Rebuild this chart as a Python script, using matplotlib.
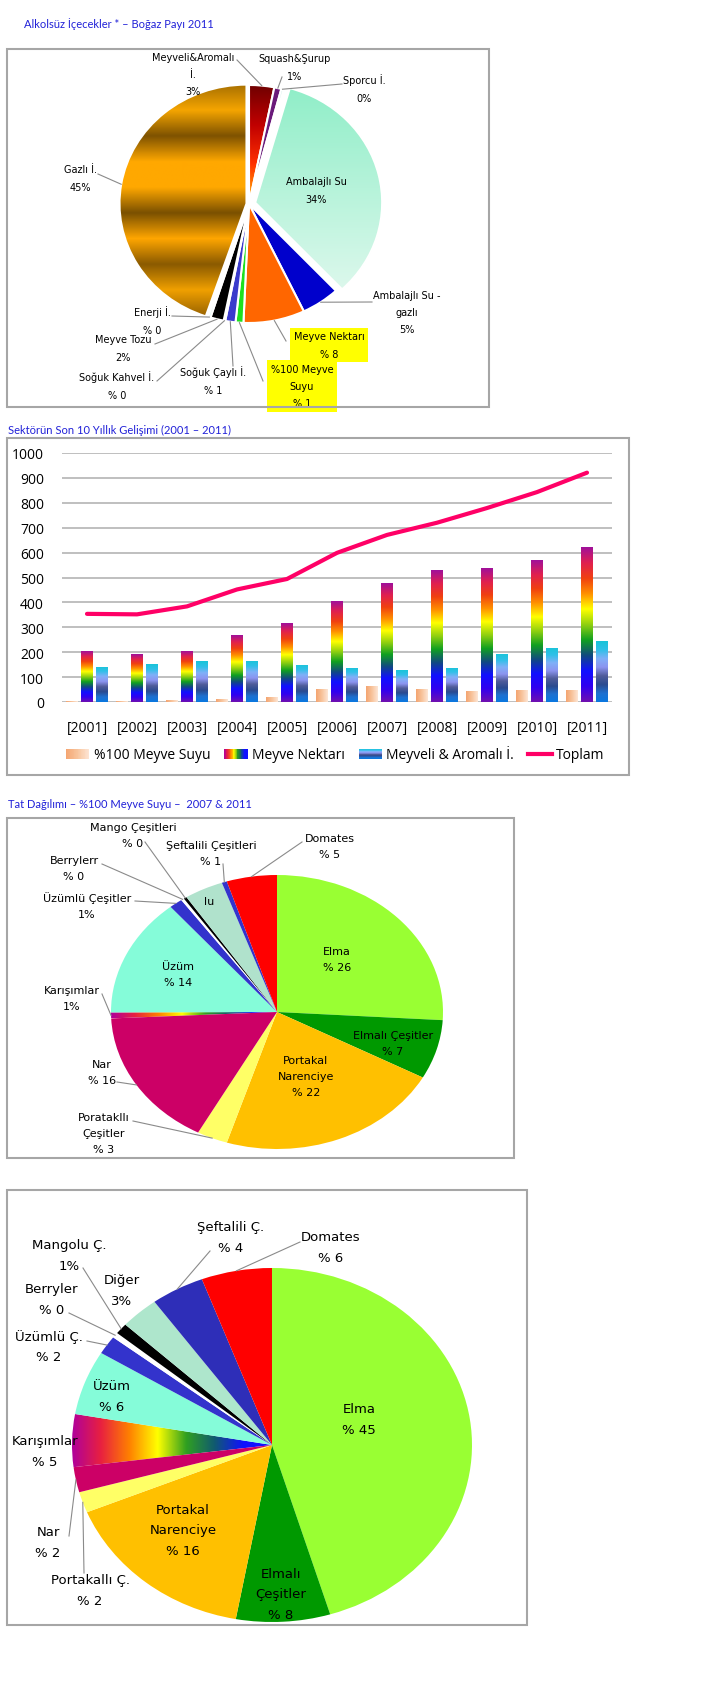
import numpy as np
import matplotlib
matplotlib.use('Agg')
import matplotlib.pyplot as plt
from matplotlib.patches import Rectangle, Patch
from matplotlib.lines import Line2D
from matplotlib.colors import LinearSegmentedColormap
from matplotlib.legend_handler import HandlerBase

plt.rcParams['font.family'] = ['DejaVu Sans']

# ---- data -------------------------------------------------------------
# pie 1: Alkolsüz içecekler boğaz payı 2011 (clockwise from 12 o'clock)
drink_labels = ['Meyveli&Aromalı\nİ.\n3%', 'Squash&Şurup\n1%', 'Sporcu İ.\n0%',
                'Ambalajlı Su\n34%', 'Ambalajlı Su -\ngazlı\n5%', 'Meyve Nektarı\n% 8',
                '%100 Meyve\nSuyu\n% 1', 'Soğuk Çaylı İ.\n% 1', 'Soğuk Kahvel İ.\n% 0',
                'Meyve Tozu\n2%', 'Enerji İ.\n% 0', 'Gazlı İ.\n45%']
drink_share = [3.2, 0.9, 0.3, 33.6, 4.9, 7.8, 1.0, 1.3, 0.2, 1.7, 0.3, 44.8]

# bar/line chart 2001-2011
years = [2001, 2002, 2003, 2004, 2005, 2006, 2007, 2008, 2009, 2010, 2011]
meyve_suyu = [4, 5, 8, 11, 20, 51, 63, 52, 44, 47, 50]
meyve_nektari = [204, 191, 204, 268, 317, 404, 477, 529, 537, 570, 622]
meyveli_aromali = [141, 152, 164, 166, 149, 138, 128, 137, 194, 218, 244]
toplam = [354, 352, 384, 452, 494, 599, 671, 720, 779, 843, 921]

# flavour pies 2007 and 2011
flavor_labels_07 = ['Elma\n% 26', 'Elmalı Çeşitler\n% 7', 'Portakal\nNarenciye\n% 22',
                    'Poratakllı\nÇeşitler\n% 3', 'Nar\n% 16', 'Karışımlar\n1%', 'Üzüm\n% 14',
                    'Üzümlü Çeşitler\n1%', 'Berrylerr\n% 0', 'Mango Çeşitleri\n% 0', 'lu',
                    'Şeftalili Çeşitleri\n% 1', 'Domates\n% 5']
flavor_share_07 = [26, 7, 22, 3, 16.4, 0.7, 14, 1.3, 0.3, 0.3, 3.8, 0.5, 4.9]

flavor_labels_11 = ['Elma\n% 45', 'Elmalı\nÇeşitler\n% 8', 'Portakal\nNarenciye\n% 16',
                    'Portakallı Ç.\n% 2', 'Nar\n% 2', 'Karışımlar\n% 5', 'Üzüm\n% 6',
                    'Üzümlü Ç.\n% 2', 'Berryler\n% 0', 'Mangolu Ç.\n1%', 'Diğer\n3%',
                    'Şeftalili Ç.\n% 4', 'Domates\n% 6']
flavor_share_11 = [45.3, 7.6, 15.9, 1.9, 2.3, 4.8, 5.9, 1.7, 0.5, 1.0, 3.1, 4.3, 5.7]

# ---- styling ----------------------------------------------------------
W, H = 708, 1708
fig = plt.figure(figsize=(W / 100, H / 100), dpi=100)
TITLE_C = '#2121d8'
LEAD_C = '#8a8a8a'

rainbow = ['#a0109a', '#e02050', '#f04010', '#ff9000', '#ffff00', '#90d010',
           '#10a020', '#104a80', '#1010ff', '#3000f0', '#7010b0'][::-1]
rainbow_h = ['#b0009a', '#e82040', '#ff8000', '#ffff00', '#30a020', '#105a70',
             '#1010ff', '#1010ff']
blue_grad = ['#0a78e0', '#1f70d0', '#2a4a90', '#505c9a', '#8c94f0', '#80b0f8',
             '#30c0e8', '#18c4d8']
peach_grad = ['#f4a470', '#f8c49c', '#fde6d6']
# top -> bottom, reversed because the image is drawn from the bottom
gold_stripes = ['#a87000', '#f5a500', '#7e5200', '#ffa800', '#ffa800', '#7a5000',
                '#ffa600', '#8a5a00', '#f0a000', '#9a6400'][::-1]
mint_grad = ['#dcf8ec', '#90eec8']
red_grad = ['#ffc000', '#ff3000', '#c00000', '#700000']


def fig_rect(x0, y0, x1, y1):
    return [x0 / W, 1 - y1 / H, (x1 - x0) / W, (y1 - y0) / H]


def draw_box(x0, y0, x1, y1):
    fig.add_artist(Rectangle((x0 / W, 1 - y1 / H), (x1 - x0) / W, (y1 - y0) / H,
                             transform=fig.transFigure, fill=False,
                             ec='#a6a6a6', lw=1.5))


def title(x, y, s):
    fig.text(x / W, 1 - y / H, s, ha='left', va='center', fontsize=8,
             color=TITLE_C, family='Lato')


def grad_fill(ax, patch, colors, vertical=True, bbox=None):
    cmap = LinearSegmentedColormap.from_list('g', colors)
    if bbox is None:
        ext = patch.get_path().get_extents()
        x0, y0, x1, y1 = ext.x0, ext.y0, ext.x1, ext.y1
    else:
        x0, y0, x1, y1 = bbox
    g = np.linspace(0, 1, 256)
    arr = g.reshape(-1, 1) if vertical else g.reshape(1, -1)
    im = ax.imshow(arr, extent=[x0, x1, y0, y1], origin='lower', cmap=cmap,
                   aspect='auto', interpolation='bilinear',
                   zorder=patch.get_zorder() - 0.05)
    im.set_clip_path(patch)
    patch.set_facecolor('none')


def draw_pie(box, cx, cy, rx, ry, values, colors, explode=None, lw=0, ec='white'):
    ax = fig.add_axes(fig_rect(*box))
    wedges, _ = ax.pie(values, colors=colors, startangle=90, counterclock=False,
                       explode=explode, wedgeprops=dict(ec=ec, lw=lw))
    x0, y0, x1, y1 = box
    lims = ((x0 - cx) / rx, (x1 - cx) / rx), ((cy - y1) / ry, (cy - y0) / ry)

    def to_data(px, py):
        return (px - cx) / rx, (cy - py) / ry
    ax.axis('off')
    return ax, wedges, lims, to_data


def pie_labels(ax, wedges, to_data, labels, pos, anchors, size, ls, bg=None):
    for i, (w, lab) in enumerate(zip(wedges, labels)):
        x, y = to_data(*pos[i])
        box = None
        if bg is not None and i in bg:
            box = dict(boxstyle='square,pad=0.35', fc='#ffff00', ec='none')
        ax.text(x, y, lab, ha='center', va='center', fontsize=size,
                linespacing=ls, bbox=box, zorder=5)
        if anchors[i] is not None:
            th = np.deg2rad((w.theta1 + w.theta2) / 2)
            wx = w.center[0] + w.r * np.cos(th)
            wy = w.center[1] + w.r * np.sin(th)
            ax_, ay_ = to_data(*anchors[i])
            ax.plot([ax_, wx], [ay_, wy], color=LEAD_C, lw=0.8, zorder=4)


# ---- panel 1 ------------------------------------------------------------
title(24, 24, 'Alkolsüz İçecekler * – Boğaz Payı 2011')
draw_box(7, 50, 489, 408)
drink_colors = ['#c00000', '#6a1a7a', '#b8e8e0', '#a8f0d4', '#0000cc', '#ff6600',
                '#1ee01e', '#3a3acc', '#4a8ab0', '#000000', '#a8e8e0', '#c08000']
drink_explode = [0, 0, 0, 0.05, 0, 0, 0, 0, 0, 0, 0, 0.02]
ax1, w1, lims1, td1 = draw_pie((7, 50, 489, 408), 249, 205, 127, 119, drink_share,
                               drink_colors, explode=drink_explode, lw=1.5)
grad_fill(ax1, w1[0], red_grad)
grad_fill(ax1, w1[3], mint_grad)
grad_fill(ax1, w1[11], gold_stripes)
drink_pos = [(193, 75), (295, 68), (364, 89), (316, 191), (407, 313), (329, 346),
             (302, 387), (213, 381), (117, 386), (123, 349), (152, 321), (80, 179)]
drink_anchor = [(237, 61), (282, 78), (342, 85), None, (372, 303), (286, 342),
                (263, 382), (233, 367), (157, 382), (155, 345), (172, 317), (98, 175)]
pie_labels(ax1, w1, td1, drink_labels, drink_pos, drink_anchor, 7, 1.9, bg={5, 6})
ax1.set_xlim(*lims1[0])
ax1.set_ylim(*lims1[1])
ax1.set_aspect('auto')

# ---- panel 2 ------------------------------------------------------------
title(8, 430, 'Sektörün Son 10 Yıllık Gelişimi (2001 – 2011)')
draw_box(7, 439, 629, 776)
ax2 = fig.add_axes(fig_rect(62, 454, 612, 703))
x = np.arange(len(years))
bw = 0.23
b_ms = ax2.bar(x - 0.3, meyve_suyu, bw, color='#f8c49c', zorder=2)
b_mn = ax2.bar(x, meyve_nektari, bw, color='#ff0000', zorder=2)
b_ma = ax2.bar(x + 0.3, meyveli_aromali, bw, color='#30c0e8', zorder=2)
for r in b_ms:
    grad_fill(ax2, r, peach_grad, vertical=False,
              bbox=(r.get_x(), 0, r.get_x() + r.get_width(), r.get_height()))
for r in b_mn:
    grad_fill(ax2, r, rainbow,
              bbox=(r.get_x(), 0, r.get_x() + r.get_width(), r.get_height()))
for r in b_ma:
    grad_fill(ax2, r, blue_grad,
              bbox=(r.get_x(), 0, r.get_x() + r.get_width(), r.get_height()))
ax2.plot(x, toplam, color='#ff0066', lw=3, solid_capstyle='round', zorder=3)
ax2.set_xlim(-0.5, len(years) - 0.5)
ax2.set_ylim(0, 1000)
ax2.set_yticks(np.arange(0, 1001, 100))
ax2.set_xticks(x)
ax2.set_xticklabels(['[%d]' % y for y in years])
ax2.grid(axis='y', color='#b4b4b4', lw=1.2, zorder=0)
ax2.set_axisbelow(True)
for s in ax2.spines.values():
    s.set_visible(False)
ax2.tick_params(length=0, labelsize=10)
ax2.tick_params(axis='y', pad=13)
ax2.tick_params(axis='x', pad=13)
for t in ax2.get_xticklabels() + ax2.get_yticklabels():
    t.set_family('Open Sans')


class GradientHandle(HandlerBase):
    def __init__(self, colors, vertical=False, n=30):
        super().__init__()
        self.cmap = LinearSegmentedColormap.from_list('h', colors)
        self.vertical = vertical
        self.n = n

    def create_artists(self, legend, orig_handle, xdescent, ydescent, width,
                       height, fontsize, trans):
        arts = []
        for i in range(self.n):
            c = self.cmap((i + 0.5) / self.n)
            if self.vertical:
                r = Rectangle((-xdescent, -ydescent + height * i / self.n), width,
                              height / self.n, fc=c, ec='none', transform=trans)
            else:
                r = Rectangle((-xdescent + width * i / self.n, -ydescent),
                              width / self.n, height, fc=c, ec='none', transform=trans)
            arts.append(r)
        return arts


h_ms, h_mn, h_ma = Patch(), Patch(), Patch()
h_line = Line2D([], [], color='#ff0066', lw=3)
leg = ax2.legend([h_ms, h_mn, h_ma, h_line],
                 ['%100 Meyve Suyu', 'Meyve Nektarı', 'Meyveli & Aromalı İ.', 'Toplam'],
                 handler_map={h_ms: GradientHandle(peach_grad),
                              h_mn: GradientHandle(rainbow_h),
                              h_ma: GradientHandle(blue_grad, vertical=True)},
                 loc='center', bbox_to_anchor=(335 / W, 1 - 755 / H),
                 bbox_transform=fig.transFigure, ncol=4, frameon=False,
                 prop={'family': 'Open Sans', 'size': 10}, handlelength=1.7,
                 handletextpad=0.3, columnspacing=1.0)

# ---- panel 3 ------------------------------------------------------------
title(8, 805, 'Tat Dağılımı – %100 Meyve Suyu –  2007 & 2011')
draw_box(7, 819, 514, 1159)
flavor_colors_07 = ['#99ff33', '#009900', '#ffc000', '#ffff66', '#cc0066', '#ff8000',
                    '#85fcd9', '#3333cc', '#ffffff', '#000000', '#b0e2cc', '#3333cc',
                    '#ff0000']
ax3, w3, lims3, td3 = draw_pie((7, 819, 514, 1159), 277, 1013, 166, 137,
                               flavor_share_07, flavor_colors_07)
grad_fill(ax3, w3[5], rainbow_h, vertical=False)
pos07 = [(337, 960), (393, 1044), (306, 1077), (104, 1134), (102, 1073), (72, 999),
         (178, 975), (87, 906), (74, 869), (133, 836), (209, 902), (211, 854),
         (330, 847)]
anchor07 = [None, None, None, (133, 1122), (117, 1083), (102, 995), None,
            (135, 902), (102, 865), (145, 843), None, (223, 865), (302, 843)]
pie_labels(ax3, w3, td3, flavor_labels_07, pos07, anchor07, 8, 1.7)
ax3.set_xlim(*lims3[0])
ax3.set_ylim(*lims3[1])
ax3.set_aspect('auto')

# ---- panel 4 ------------------------------------------------------------
draw_box(7, 1191, 527, 1626)
flavor_colors_11 = ['#99ff33', '#009900', '#ffc000', '#ffff66', '#cc0066', '#ff8000',
                    '#85fcd9', '#3333cc', '#ffffff', '#000000', '#aee6cc', '#2e2eb8',
                    '#ff0000']
ax4, w4, lims4, td4 = draw_pie((7, 1191, 527, 1626), 272, 1446, 200, 177,
                               flavor_share_11, flavor_colors_11)
grad_fill(ax4, w4[5], rainbow_h, vertical=False)
pos11 = [(359, 1420), (281, 1595), (183, 1531), (90, 1591), (48, 1543), (45, 1452),
         (112, 1397), (49, 1347), (52, 1300), (69, 1256), (122, 1291), (231, 1238),
         (331, 1248)]
anchor11 = [None, None, None, (84, 1574), (69, 1537), None, None, (87, 1342),
            (69, 1314), (83, 1269), None, (210, 1252), (300, 1243)]
pie_labels(ax4, w4, td4, flavor_labels_11, pos11, anchor11, 9.5, 1.75)
ax4.set_xlim(*lims4[0])
ax4.set_ylim(*lims4[1])
ax4.set_aspect('auto')

fig.savefig('out.png', dpi=100)
